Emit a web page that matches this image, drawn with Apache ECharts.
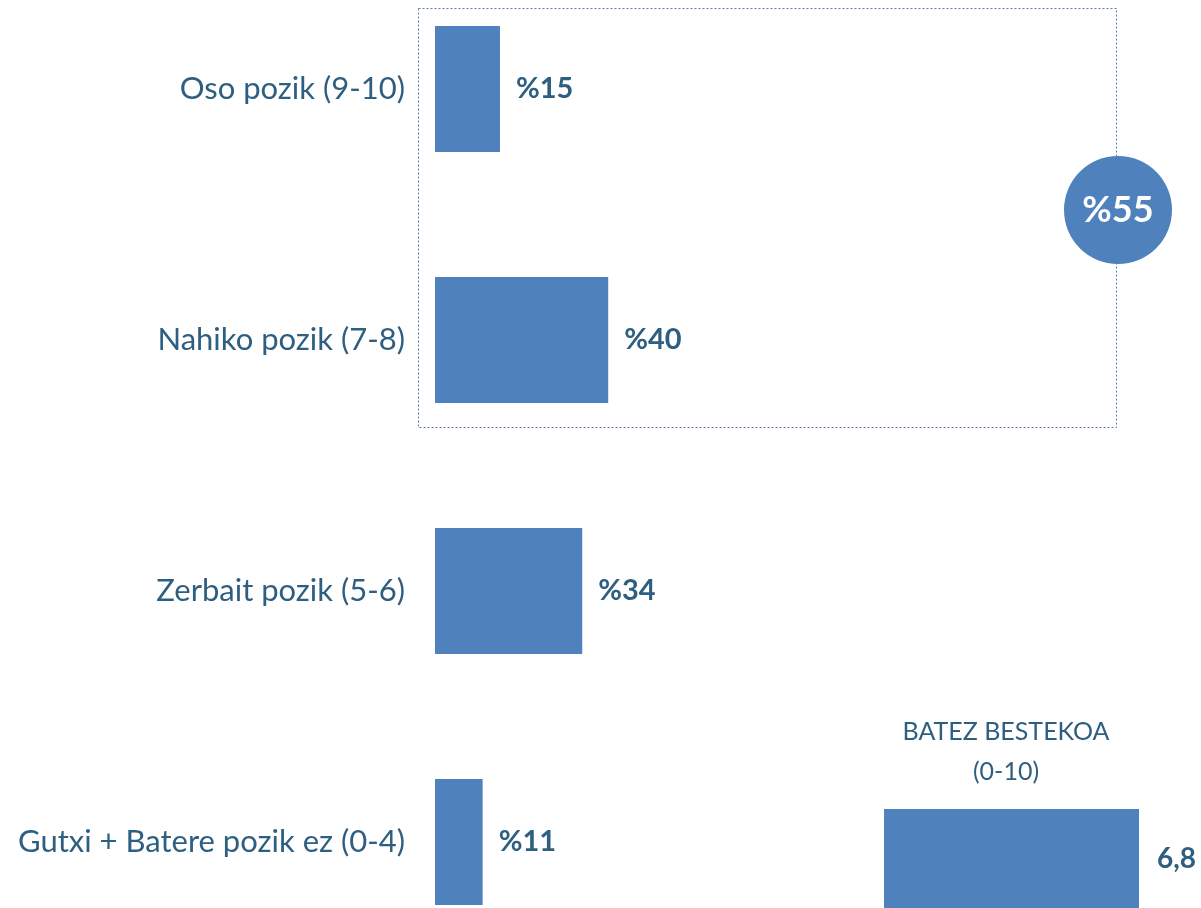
<!DOCTYPE html>
<html>
<head>
<meta charset="utf-8">
<script src="https://cdn.jsdelivr.net/npm/echarts@6/dist/echarts.min.js"></script>
<style>
  html, body { margin: 0; padding: 0; background: #fff; }
  #main { width: 1201px; height: 908px; }
</style>
</head>
<body>
<div id="main"></div>
<script>
const categories = ['Oso pozik (9-10)', 'Nahiko pozik (7-8)', 'Zerbait pozik (5-6)', 'Gutxi + Batere pozik ez (0-4)'];
const shares = [15, 40, 34, 11];
const meanLabel = ['BATEZ BESTEKOA', '(0-10)'];
const meanValue = [6.8];
const pozikTotal = 55;

const FONT = 'Lato, "Open Sans", sans-serif';
const TEXT = '#2F5F80';
const BAR = '#4F81BD';

const chart = echarts.init(document.getElementById('main'));
chart.setOption({
    animation: false,
    grid: [
        // category ticks sit on the bar centres (boundaryGap false)
        { left: 435, top: 89, width: 433, height: 753 },
        { left: 884, top: 809, width: 300, height: 106 }
    ],
    xAxis: [
        { gridIndex: 0, type: 'value', min: 0, max: 100, show: false },
        { gridIndex: 1, type: 'value', min: 0, max: 8, show: false }
    ],
    yAxis: [
        {
            gridIndex: 0,
            type: 'category',
            inverse: true,
            boundaryGap: false,
            data: categories,
            axisLine: { show: false },
            axisTick: { show: false },
            axisLabel: { margin: 30, color: TEXT, fontSize: 31, fontFamily: FONT }
        },
        { gridIndex: 1, type: 'category', data: ['mean'], show: false }
    ],
    series: [
        {
            type: 'bar',
            xAxisIndex: 0,
            yAxisIndex: 0,
            data: shares,
            barWidth: 126,
            clip: false,
            itemStyle: { color: BAR },
            label: {
                show: true,
                position: 'right',
                distance: 16,
                formatter: '%{c}',
                color: TEXT,
                fontSize: 29,
                fontWeight: 'bold',
                fontFamily: FONT
            }
        },
        {
            type: 'bar',
            xAxisIndex: 1,
            yAxisIndex: 1,
            data: meanValue,
            barWidth: '100%',
            clip: false,
            itemStyle: { color: BAR },
            label: {
                show: true,
                position: 'right',
                distance: 18,
                formatter: p => String(p.value).replace('.', ','),
                color: TEXT,
                fontSize: 28,
                fontWeight: 'bold',
                fontFamily: FONT
            }
        }
    ],
    graphic: [
        {
            type: 'rect',
            shape: { x: 418.5, y: 8.5, width: 698, height: 419 },
            style: { fill: null, stroke: '#5B80AA', lineWidth: 1, lineDash: [2, 2] }
        },
        {
            type: 'circle',
            shape: { cx: 1118, cy: 210, r: 54 },
            style: { fill: BAR }
        },
        {
            type: 'text',
            x: 1118, y: 210,
            style: {
                text: '%' + pozikTotal,
                fill: '#fff',
                font: 'bold 36px ' + FONT,
                align: 'center',
                verticalAlign: 'middle'
            }
        },
        {
            type: 'text',
            x: 1006, y: 752,
            style: {
                text: meanLabel.join('\n'),
                fill: TEXT,
                font: '25px ' + FONT,
                lineHeight: 40,
                align: 'center',
                verticalAlign: 'middle'
            }
        }
    ]
});
</script>
</body>
</html>
